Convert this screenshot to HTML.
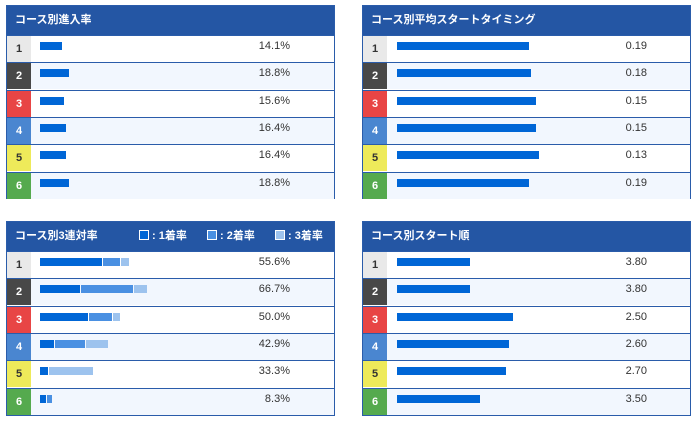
<!DOCTYPE html>
<html><head><meta charset="utf-8"><style>
body{margin:0;width:700px;height:421px;background:#fff;position:relative;overflow:hidden;font-family:"Liberation Sans","Noto Sans CJK JP",sans-serif;}
.panel{position:absolute;width:329px;border:1px solid #2a5caa;box-sizing:border-box;background:#fff}
.hdr{height:29px;background:#2456a4;color:#fff;font-size:11px;font-weight:bold;line-height:29px;padding-left:8px;position:relative}
.row{position:absolute;left:0;right:0;height:27px;border-top:1px solid #2a5caa;box-sizing:border-box}
.num{position:absolute;left:0;top:0;width:24px;height:100%;font-size:11px;font-weight:bold;text-align:center;line-height:26px}
.val{position:absolute;top:4px;font-size:11px;color:#333}
.bar{position:absolute;top:6px;height:8px}
.lg{position:absolute;top:0;font-size:11px}
.sq{display:inline-block;width:8px;height:8px;border:1px solid #fff;margin-right:3px;vertical-align:-1px}
</style></head><body>
<div class="panel" style="left:6px;top:5px;height:194px"><div class="hdr">コース別進入率</div><div id="p1"></div></div>
<div class="panel" style="left:362px;top:5px;height:194px"><div class="hdr">コース別平均スタートタイミング</div><div id="p2"></div></div>
<div class="panel" style="left:6px;top:221px;height:195px"><div class="hdr">コース別3連対率
<span class="lg" style="left:132px"><span class="sq" style="background:#0066d6"></span>: 1着率</span>
<span class="lg" style="left:200px"><span class="sq" style="background:#4a90e2"></span>: 2着率</span>
<span class="lg" style="left:268px"><span class="sq" style="background:#9dc3ee"></span>: 3着率</span></div><div id="p3"></div></div>
<div class="panel" style="left:362px;top:221px;height:195px"><div class="hdr">コース別スタート順</div><div id="p4"></div></div>
<script>
const courses=["1","2","3","4","5","6"];
const entryRate=[14.1,18.8,15.6,16.4,16.4,18.8];
const avgST=[0.19,0.18,0.15,0.15,0.13,0.19];
const first=[38.9,25.0,30.0,9.5,5.6,4.2];
const second=[11.1,33.3,15.0,19.1,0,4.1];
const third=[5.6,8.4,5.0,14.3,27.7,0];
const top3=[55.6,66.7,50.0,42.9,33.3,8.3];
const startOrder=[3.80,3.80,2.50,2.60,2.70,3.50];
const numBg=["#e9e9e9","#484848","#e84545","#4a86d0","#eeea5a","#55aa4e"];
const numFg=["#333","#fff","#fff","#fff","#333","#fff"];
function rows(id,name){
 const p=document.getElementById(id);const out=[];
 courses.forEach((c,i)=>{
  const r=document.createElement('div');r.className='row';
  
  
  r.style.top=(29+i*27.3)+'px';r.style.background=i%2?'#f2f7fe':'#fff';
  const n=document.createElement('div');n.className='num';n.textContent=c;
  
  
  n.style.background=numBg[i];n.style.color=numFg[i];
  r.appendChild(n);p.appendChild(r);out.push(r);});
 return out;}
function bar(r,x,w,col,nm){const b=document.createElement('div');b.className='bar';
 
 
 b.style.left=x+'px';b.style.width=Math.max(0,w)+'px';b.style.background=col;r.appendChild(b);}
function val(r,t,x,nm){const v=document.createElement('div');v.className='val';v.textContent=t;
 
 
 v.style.right=x+'px';r.appendChild(v);}
rows('p1','entry-rate').forEach((r,i)=>{bar(r,33,entryRate[i]*1.56,'#0066d6','entry-bar-'+courses[i]);val(r,entryRate[i].toFixed(1)+'%',44,'entry-value-'+courses[i]);});
rows('p2','start-timing').forEach((r,i)=>{bar(r,34,(1-avgST[i])*163,'#0066d6','st-bar-'+courses[i]);val(r,avgST[i].toFixed(2),43,'st-value-'+courses[i]);});
rows('p3','top3-rate').forEach((r,i)=>{const k=1.62;let x=33;
 bar(r,x,first[i]*k-1,'#0066d6','first-bar-'+courses[i]);x+=first[i]*k;
 bar(r,x,second[i]*k-1,'#4a90e2','second-bar-'+courses[i]);x+=second[i]*k;
 bar(r,x,third[i]*k-1,'#9dc3ee','third-bar-'+courses[i]);
 val(r,top3[i].toFixed(1)+'%',44,'top3-value-'+courses[i]);});
rows('p4','start-order').forEach((r,i)=>{bar(r,34,(6-startOrder[i])*33,'#0066d6','order-bar-'+courses[i]);val(r,startOrder[i].toFixed(2),43,'order-value-'+courses[i]);});
</script>
</body></html>
